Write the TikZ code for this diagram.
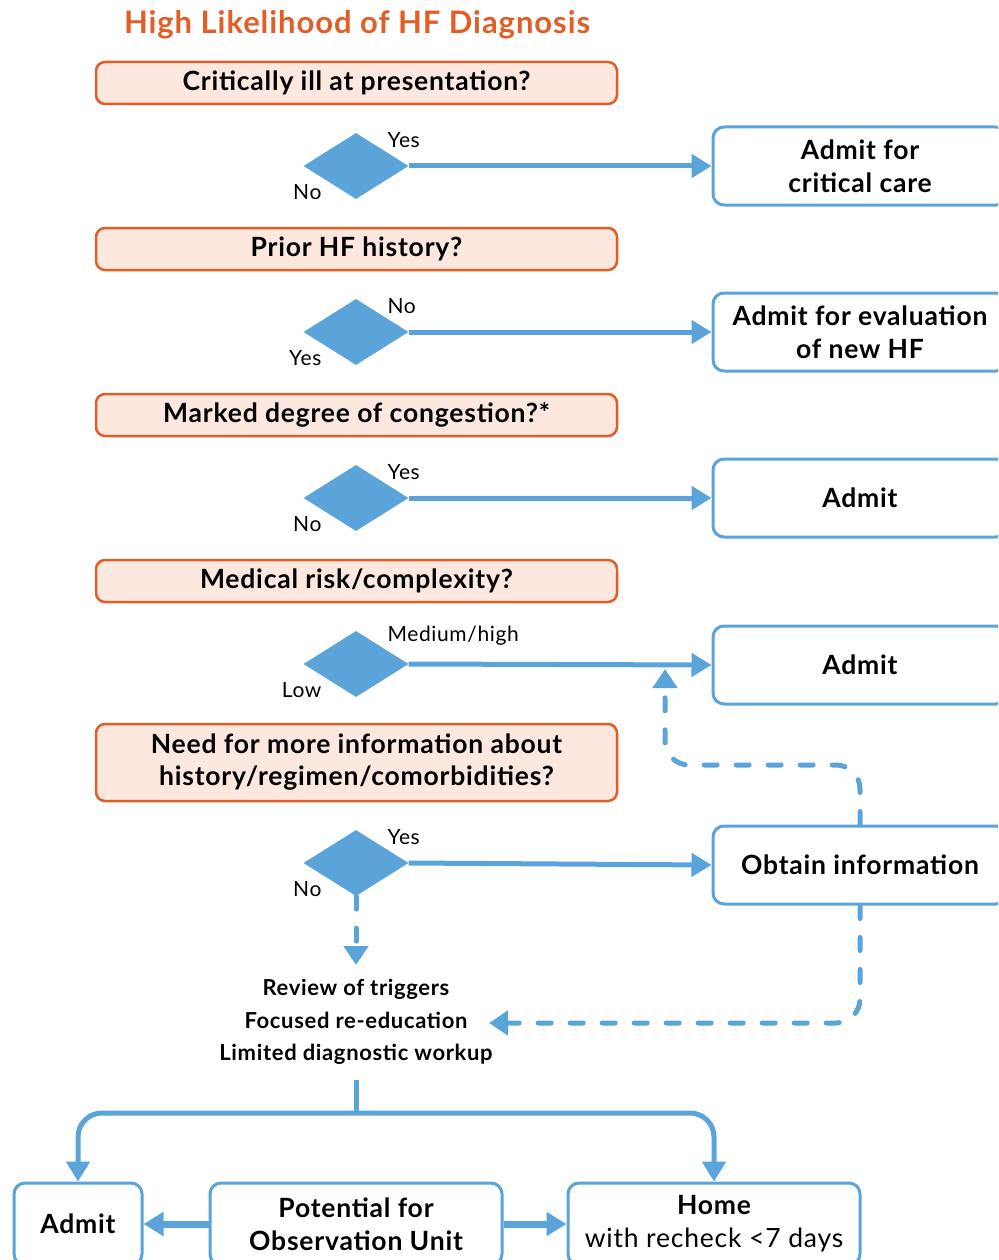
\documentclass[tikz,border=0pt]{standalone}
\usepackage{fontspec}
\setmainfont{Lato}[LetterSpace=3]
\usepackage{tikz}
\usetikzlibrary{arrows.meta,shapes.geometric}

\definecolor{hfblue}{HTML}{5BA4DA}
\definecolor{hforange}{HTML}{E35D26}
\definecolor{hfpeach}{HTML}{FCE8DF}

\begin{document}
\begin{tikzpicture}[x=1pt,y=-1pt]

\tikzstyle{question}=[draw=hforange,fill=hfpeach,line width=2.5pt,rounded corners=9pt,minimum width=521pt,minimum height=42pt,align=center,font=\fontsize{26.5}{32}\selectfont\bfseries]
\tikzstyle{outcome}=[draw=hfblue,fill=white,line width=3pt,rounded corners=11pt,minimum height=78pt,align=center,font=\fontsize{26.5}{33}\selectfont\bfseries]
\tikzstyle{decision}=[diamond,fill=hfblue,inner sep=0pt,minimum width=105pt,minimum height=66pt]
\tikzstyle{answer}=[inner sep=2pt,font=\fontsize{21}{24}\selectfont]
\tikzstyle{flow}=[hfblue,line width=5pt,-{Triangle[length=20pt,width=23pt]}]
\tikzstyle{dashflow}=[hfblue,line width=5pt,line cap=round,dash pattern=on 13pt off 19pt,rounded corners=24pt,-{Triangle[length=19pt,width=24pt]}]

\useasboundingbox (0,0) rectangle (998,1260);
\clip (0,0) rectangle (998,1260);

%% title and questions
\node[text=hforange,font=\fontsize{31}{34}\selectfont\bfseries] (title) at (357,25) {High Likelihood of HF Diagnosis};

\node[question] (q1) at (356.5,83) {Critically ill at presentation?};
\node[question] (q2) at (356.5,249) {Prior HF history?};
\node[question] (q3) at (356.5,415) {Marked degree of congestion?*};
\node[question] (q4) at (356.5,581) {Medical risk/complexity?};
\node[question,minimum height=77pt] (q5) at (356.5,762.5) {Need for more information about\\history/regimen/comorbidities?};

%% decisions
\node[decision] (d1) at (356,166) {};
\node[decision] (d2) at (356,332) {};
\node[decision] (d3) at (356,498) {};
\node[decision] (d4) at (356,664) {};
\node[decision] (d5) at (356,863) {};

\node[answer,anchor=south west,xshift=3pt] at (d1.north east) {Yes};
\node[answer,anchor=north east,xshift=-6pt] at (d1.south west) {No};
\node[answer,anchor=south west,xshift=3pt] at (d2.north east) {No};
\node[answer,anchor=north east,xshift=-6pt] at (d2.south west) {Yes};
\node[answer,anchor=south west,xshift=3pt] at (d3.north east) {Yes};
\node[answer,anchor=north east,xshift=-6pt] at (d3.south west) {No};
\node[answer,anchor=south west,xshift=3pt] at (d4.north east) {Medium/high};
\node[answer,anchor=north east,xshift=-6pt] at (d4.south west) {Low};
\node[answer,anchor=south west,xshift=3pt] at (d5.north east) {Yes};
\node[answer,anchor=north east,xshift=-6pt] at (d5.south west) {No};

%% outcomes on the right
\node[outcome,minimum width=294pt] (r1) at (860,166) {Admit for\\critical care};
\node[outcome,minimum width=294pt] (r2) at (860,332) {Admit for evaluation\\of new HF};
\node[outcome,minimum width=294pt] (r3) at (860,498) {Admit};
\node[outcome,minimum width=294pt] (r4) at (860,665) {Admit};
\node[outcome,minimum width=294pt] (ob) at (860,865) {Obtain information};

\draw[flow] (d1.east) -- (r1.west);
\draw[flow] (d2.east) -- (r2.west);
\draw[flow] (d3.east) -- (r3.west);
\draw[flow] (d4.east) -- (r4.west);
\draw[flow] (d5.east) -- (ob.west);

%% follow-up steps
\node[align=center,font=\fontsize{22}{32.5}\selectfont\bfseries] (rev) at (356,1022) {Review of triggers\\Focused re-education\\Limited diagnostic workup};

\coordinate (up) at (665,669);
\coordinate (revtop) at (356,965);
\coordinate (reveast) at (489,1023);
\coordinate (split) at (356,1113);

\draw[dashflow] (ob.north) |- (up |- 0,765) -- (up);
\draw[dashflow] (d5.south) -- (revtop);
\draw[dashflow] (ob.south) |- (reveast);

%% bottom row
\node[outcome,minimum width=128pt,minimum height=82pt] (adm) at (78,1224) {Admit};
\node[outcome,minimum width=292pt,minimum height=82pt] (obs) at (356,1224) {Potential for\\Observation Unit};
\node[outcome,minimum width=292pt,minimum height=82pt] (home) at (714,1224) {Home\\{\mdseries with recheck <7 days}};

\draw[hfblue,line width=5pt] (356,1080) -- (split);
\draw[flow,rounded corners=24pt] (split) -| (adm.north);
\draw[flow,rounded corners=24pt] (split) -| (home.north);
\draw[flow,line width=7pt] (obs.west) -- (adm.east);
\draw[flow,line width=7pt] (obs.east) -- (home.west);

\end{tikzpicture}
\end{document}
